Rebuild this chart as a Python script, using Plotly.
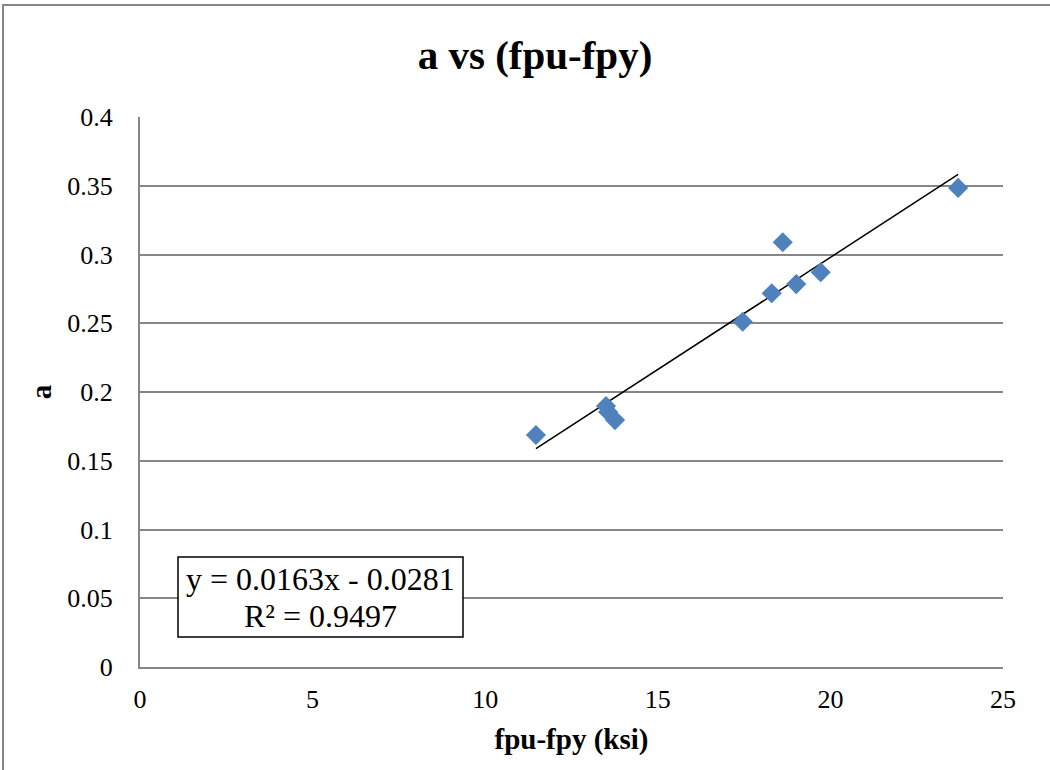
import plotly.graph_objects as go
import numpy as np

# Data
fpu_fpy = [11.47, 13.50, 13.56, 13.76, 17.46, 18.30, 18.62, 19.01, 19.72, 23.70]
a_vals = [0.1687, 0.1898, 0.1855, 0.1796, 0.2511, 0.2718, 0.3089, 0.2785, 0.2871, 0.3484]

slope = 0.0163
intercept = -0.0281
r2 = 0.9497

x_ticks = [0, 5, 10, 15, 20, 25]
y_ticks = [0, 0.05, 0.1, 0.15, 0.2, 0.25, 0.3, 0.35, 0.4]
y_tick_text = ["0", "0.05", "0.1", "0.15", "0.2", "0.25", "0.3", "0.35", "0.4"]

FONT = "Liberation Serif, Times New Roman, serif"

trend_x = np.array([min(fpu_fpy), max(fpu_fpy)])
trend_y = slope * trend_x + intercept

fig = go.Figure()
fig.add_trace(go.Scatter(
    x=trend_x, y=trend_y, mode="lines",
    line=dict(color="black", width=1.5),
    showlegend=False, hoverinfo="skip"))
fig.add_trace(go.Scatter(
    x=fpu_fpy, y=a_vals, mode="markers",
    marker=dict(symbol="diamond", size=15.5, color="#4F81BD", line=dict(width=0)),
    showlegend=False))

fig.update_layout(
    width=1050, height=770,
    margin=dict(l=140, r=47, t=117, b=103),
    paper_bgcolor="white", plot_bgcolor="white",
    font=dict(family=FONT, color="black", size=26),
    title=dict(text="<b>a vs (fpu-fpy)</b>", x=535/1050, xanchor="center",
               y=1 - 55/770, yanchor="middle",
               font=dict(family=FONT, size=41, color="black")),
    xaxis=dict(range=[0, 25], tickvals=x_ticks, showgrid=False, zeroline=False,
               showline=True, linecolor="#868686", linewidth=2, ticks="",
               ticklen=0, ticklabelstandoff=8, tickfont=dict(family=FONT, size=26),
               title=dict(text="<b>fpu-fpy (ksi)</b>", standoff=15,
                          font=dict(family=FONT, size=29))),
    yaxis=dict(range=[0, 0.4], tickvals=y_ticks, ticktext=y_tick_text,
               showgrid=True, gridcolor="#868686", gridwidth=2, zeroline=False,
               showline=True, linecolor="#868686", linewidth=2, ticks="",
               ticklen=0, ticklabelstandoff=20, tickfont=dict(family=FONT, size=26),
               title=dict(text="<b>a</b>", standoff=7,
                          font=dict(family=FONT, size=29))),
)

# trendline equation box
fig.add_shape(type="rect", xref="paper", yref="paper",
              x0=(178 - 140) / 863, x1=(463 - 140) / 863,
              y0=(667 - 637) / 550, y1=(667 - 557) / 550,
              line=dict(color="black", width=1.5), fillcolor="white", layer="above")
eq_lines = [f"y = {slope}x - {abs(intercept)}", f"R² = {r2}"]
for txt, cy in zip(eq_lines, [579, 616]):
    fig.add_annotation(
        xref="paper", yref="paper",
        x=(320 - 140) / 863, y=(667 - cy) / 550,
        xanchor="center", yanchor="middle",
        text=txt, showarrow=False, align="center",
        font=dict(family=FONT, size=32, color="black"))

# outer chart-area border (top and left edges visible)
fig.add_shape(type="path", xref="paper", yref="paper",
              path=f"M {(3-140)/863} {(667-775)/550} L {(3-140)/863} {(667-5)/550} L {(1055-140)/863} {(667-5)/550}",
              line=dict(color="#868686", width=2))

fig.write_html("out.html")
